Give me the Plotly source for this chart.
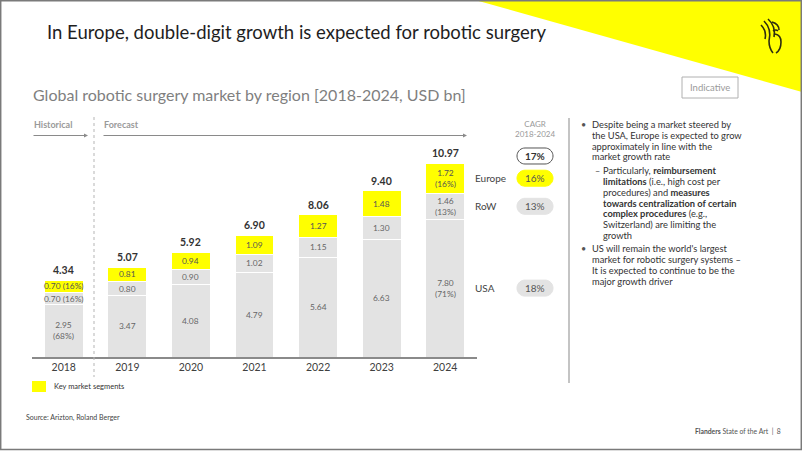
import math
import plotly.graph_objects as go

# ---------------- data ----------------
years = ["2018", "2019", "2020", "2021", "2022", "2023", "2024"]
usa = [2.95, 3.47, 4.08, 4.79, 5.64, 6.63, 7.80]
row = [0.70, 0.80, 0.90, 1.02, 1.15, 1.30, 1.46]
europe = [0.70, 0.81, 0.94, 1.09, 1.27, 1.48, 1.72]
totals = [4.34, 5.07, 5.92, 6.90, 8.06, 9.40, 10.97]
usa_labels = ["2.95<br>(68%)", "3.47", "4.08", "4.79", "5.64", "6.63", "7.80<br>(71%)"]
row_labels = ["0.70 (16%)", "0.80", "0.90", "1.02", "1.15", "1.30", "1.46<br>(13%)"]
europe_labels = ["0.70 (16%)", "0.81", "0.94", "1.09", "1.27", "1.48", "1.72<br>(16%)"]
regions = ["Europe", "RoW", "USA"]
cagr_total = "17%"
cagr_region = ["16%", "13%", "18%"]

bullet1 = ["Despite being a market steered by", "the USA, Europe is expected to grow",
           "approximately in line with the", "market growth rate"]
sub1 = ["Particularly, <b>reimbursement</b>", "<b>limitations</b> (i.e., high cost per",
        "procedures) and <b>measures</b>", "<b>towards centralization of certain</b>",
        "<b>complex procedures</b> (e.g.,", "Switzerland) are limiting the", "growth"]
bullet2 = ["US will remain the world's largest", "market for robotic surgery systems –",
           "It is expected to continue to be the", "major growth driver"]

YELLOW = "#ffff00"
GRAY = "#e3e3e3"
FONT = "Lato"

# plot area in pixels
L, R, T, B = 32, 477, 145, 357
W, H = 802, 451
xpos = list(range(len(years)))


def fx(x):
    return (x - L) / (R - L)


def fy(y):
    return (B - y) / (B - T)


fig = go.Figure()
fig.add_trace(go.Bar(x=xpos, y=usa, name="USA", width=0.613,
                     marker=dict(color=GRAY, line=dict(color="white", width=1))))
fig.add_trace(go.Bar(x=xpos, y=row, name="RoW", width=0.613,
                     marker=dict(color=GRAY, line=dict(color="white", width=1))))
fig.add_trace(go.Bar(x=xpos, y=europe, name="Europe", width=0.613,
                     marker=dict(color=YELLOW, line=dict(color="white", width=1))))

ann = []
shapes = []

# segment labels
for i in xpos:
    mids = [usa[i] / 2, usa[i] + row[i] / 2, usa[i] + row[i] + europe[i] / 2]
    for m, lab, col in zip(mids, [usa_labels[i], row_labels[i], europe_labels[i]], ["#666", "#666", "#555"]):
        ann.append(dict(x=i, y=m, xref="x", yref="y", text=lab, showarrow=False,
                        xanchor="center", yanchor="middle",
                        font=dict(family=FONT, size=8.4, color=col), align="center"))
    ann.append(dict(x=i, y=totals[i], xref="x", yref="y", text="<b>%.2f</b>" % totals[i],
                    showarrow=False, xanchor="center", yanchor="bottom", yshift=2,
                    font=dict(family=FONT, size=10.5, color="#333")))

# region labels + CAGR pills aligned to 2024 segments
mid24 = [usa[-1] + row[-1] + europe[-1] / 2, usa[-1] + row[-1] / 2, usa[-1] / 2]
y_per_px = 12 / (B - T)


def pill(cx, cy_px, w, h, fill, line):
    r = h / 2
    pts = []
    for k in range(0, 19):
        a = math.pi / 2 + math.pi * k / 18
        pts.append((cx - w / 2 + r + r * math.cos(a), cy_px - r * math.sin(a)))
    for k in range(0, 19):
        a = -math.pi / 2 + math.pi * k / 18
        pts.append((cx + w / 2 - r + r * math.cos(a), cy_px - r * math.sin(a)))
    path = "M " + " L ".join("%.5f,%.5f" % (fx(px), fy(py)) for px, py in pts) + " Z"
    return dict(type="path", xref="paper", yref="paper", path=path,
                fillcolor=fill, line=dict(color=line if line else fill, width=1), layer="below")


def txt(x, y, text, size, color, anchor="left", bold=False):
    ann.append(dict(x=fx(x), y=fy(y), xref="paper", yref="paper",
                    text=("<b>%s</b>" % text) if bold else text, showarrow=False,
                    xanchor=anchor, yanchor="middle", font=dict(family=FONT, size=size, color=color)))


CX = 535
for k, (reg, m, c) in enumerate(zip(regions, mid24, cagr_region)):
    ypx = B - m / y_per_px
    ann.append(dict(x=fx(473), y=m, xref="paper", yref="y", text=reg, showarrow=False,
                    xanchor="left", yanchor="middle", font=dict(family=FONT, size=10, color="#444")))
    fill = YELLOW if k == 0 else "#e3e3e3"
    shapes.append(pill(CX, ypx, 36, 16, fill, None))
    txt(CX, ypx, c, 10, "#555", anchor="center")
shapes.append(pill(CX, 156, 36, 16, "white", "#555"))
txt(CX, 156, cagr_total, 10, "#333", anchor="center", bold=True)
txt(CX, 129, "CAGR<br>2018-2024", 8, "#9a9a9a", anchor="center")

# headings
txt(45, 32, "In Europe, double-digit growth is expected for robotic surgery", 18.5, "#1e1e1e")
txt(31, 95, "Global robotic surgery market by region [2018-2024, USD bn]", 16, "#7f7f7f")
txt(710, 87.5, "Indicative", 9.5, "#9a9a9a", anchor="center")
txt(32, 124.5, "Historical", 9, "#9a9a9a", bold=True)
txt(102, 124.5, "Forecast", 9, "#9a9a9a", bold=True)

# arrows
for x0, x1 in [(32, 88), (102, 467)]:
    ann.append(dict(x=fx(x1), y=fy(135.5), xref="paper", yref="paper", ax=x0 - x1, ay=0,
                    axref="pixel", ayref="pixel", showarrow=True, arrowhead=2, arrowsize=0.8,
                    arrowwidth=1, arrowcolor="#8a8a8a", text=""))

# bullets
for i, line in enumerate(bullet1):
    txt(590, 124.7 + i * 10.7, line, 9.3, "#333")
txt(579, 124.7, "•", 9, "#555")
for i, line in enumerate(sub1):
    txt(601, 170.3 + i * 10.9, line, 9.3, "#333")
txt(592.5, 170.3, "–", 9, "#555")
for i, line in enumerate(bullet2):
    txt(590, 248.7 + i * 11.0, line, 9.3, "#333")
txt(579, 248.7, "•", 9, "#555")

# legend / footer
shapes.append(dict(type="rect", xref="paper", yref="paper", x0=fx(32), x1=fx(46), y0=fy(381), y1=fy(392),
                   fillcolor=YELLOW, line=dict(width=0)))
txt(52, 386.5, "Key market segments", 7.5, "#333")
txt(24, 417, "Source: Arizton, Roland Berger", 7, "#444")
txt(783, 430.5, "<b>Flanders</b> State of the Art  |  8", 6.8, "#555", anchor="right")

# yellow triangle
shapes.append(dict(type="path", xref="paper", yref="paper", layer="below",
                   path="M %f,%f L %f,%f L %f,%f Z" % (fx(475), fy(0), fx(802), fy(0), fx(802), fy(92)),
                   fillcolor=YELLOW, line=dict(width=0)))
# lion logo (stylised strokes)
logo = ["M 761,25 Q 767,31 765,39", "M 764,21 Q 772,29 769,41 Q 769,48 773,53",
        "M 768,19 Q 776,26 774,37", "M 772,22 Q 779,24 779,30",
        "M 775,34 Q 781,35 781,42 Q 781,50 776,53", "M 773,31 Q 776,29 778,31"]
for p in logo:
    out = []
    for tok in p.split():
        if "," in tok:
            a, b = tok.split(",")
            out.append("%f,%f" % (fx(float(a)), fy(float(b))))
        else:
            out.append(tok)
    shapes.append(dict(type="path", xref="paper", yref="paper", path=" ".join(out),
                       line=dict(color="#2e2e10", width=1.6)))

# "Indicative" box
shapes.append(dict(type="rect", xref="paper", yref="paper", x0=fx(682), x1=fx(738), y0=fy(77), y1=fy(98),
                   line=dict(color="#b0b0b0", width=1), fillcolor="white", layer="below"))
# dotted separator
shapes.append(dict(type="line", xref="paper", yref="paper", x0=fx(94), x1=fx(94), y0=fy(117), y1=fy(377),
                   line=dict(color="#b5b5b5", width=1, dash="dot")))
# right vertical rule
shapes.append(dict(type="line", xref="paper", yref="paper", x0=fx(569), x1=fx(569), y0=fy(118), y1=fy(383),
                   line=dict(color="#b0b0b0", width=1.5)))
# frame
shapes.append(dict(type="rect", xref="paper", yref="paper", x0=fx(0.7), x1=fx(801.3), y0=fy(0.7), y1=fy(449.5),
                   line=dict(color="#7a7a7a", width=1.5), fillcolor="rgba(0,0,0,0)"))

fig.update_layout(
    width=W, height=H,
    margin=dict(l=L, r=W - R, t=T, b=H - B, pad=0),
    barmode="stack",
    showlegend=False,
    plot_bgcolor="white", paper_bgcolor="white",
    font=dict(family=FONT),
    xaxis=dict(type="linear", range=[-0.5, len(years) - 0.5], tickvals=xpos, ticktext=years,
               showline=True, linecolor="#8a8a8a", linewidth=1.5, ticks="", zeroline=False,
               showgrid=False, tickfont=dict(family=FONT, size=10.5, color="#404040")),
    yaxis=dict(range=[0, 12], visible=False, showgrid=False, zeroline=False),
    annotations=ann, shapes=shapes,
)

fig.write_html("out.html", post_script="document.body.style.margin='0';",
               config={"displayModeBar": False})
